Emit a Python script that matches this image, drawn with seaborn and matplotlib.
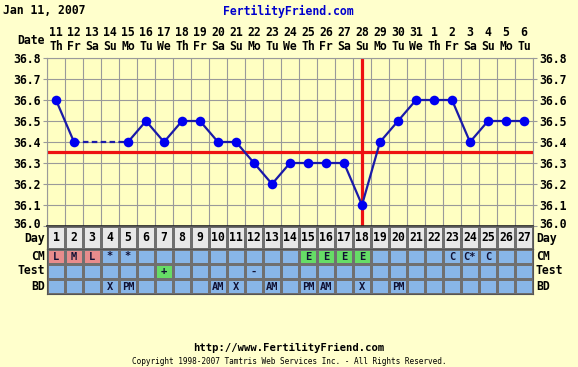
import numpy as np
import pandas as pd
import matplotlib
matplotlib.use("Agg")
import matplotlib.pyplot as plt
import matplotlib.transforms as mtransforms
from matplotlib.colors import ListedColormap
import seaborn as sns

# chart data
title = "Jan 11, 2007"
site = "FertilityFriend.com"
footer_url = "http://www.FertilityFriend.com"
footer_copy = "Copyright 1998-2007 Tamtris Web Services Inc. - All Rights Reserved."
cycle_days = list(range(1, 28))
dates = ["11", "12", "13", "14", "15", "16", "17", "18", "19", "20", "21", "22", "23", "24",
         "25", "26", "27", "28", "29", "30", "31", "1", "2", "3", "4", "5", "6"]
weekdays = ["Th", "Fr", "Sa", "Su", "Mo", "Tu", "We", "Th", "Fr", "Sa", "Su", "Mo", "Tu", "We",
            "Th", "Fr", "Sa", "Su", "Mo", "Tu", "We", "Th", "Fr", "Sa", "Su", "Mo", "Tu"]
temps = [36.6, 36.4, None, None, 36.4, 36.5, 36.4, 36.5, 36.5, 36.4, 36.4, 36.3, 36.2, 36.3,
         36.3, 36.3, 36.3, 36.1, 36.4, 36.5, 36.6, 36.6, 36.6, 36.4, 36.5, 36.5, 36.5]
coverline = 36.35
ovulation_day = 18
temp_ticks = [36.0, 36.1, 36.2, 36.3, 36.4, 36.5, 36.6, 36.7, 36.8]
row_names = ["CM", "Test", "BD"]
cm = ["L", "M", "L", "*", "*", "", "", "", "", "", "", "", "", "",
      "E", "E", "E", "E", "", "", "", "", "C", "C*", "C", "", ""]
test = ["", "", "", "", "", "", "+", "", "", "", "", "-", "", "",
        "", "", "", "", "", "", "", "", "", "", "", "", ""]
bd = ["", "", "", "X", "PM", "", "", "", "", "AM", "X", "", "AM", "",
      "PM", "AM", "", "X", "", "PM", "", "", "", "", "", "", ""]

# colours
BG = "#ffffcc"
PLOT_BG = "#ffffc2"
GRID = "#9a9a9a"
LINE = "#1a1aa8"
MARK = "#0000f0"
RED = "#ee1111"
BLUE_CELL = "#88b6e8"
PINK_CELL = "#e88c8c"
GREEN_CELL = "#66dd66"
cell_code = {"L": 1, "M": 1, "E": 2, "+": 2}

plt.rcParams['font.family'] = ['DejaVu Sans Mono']
plt.rcParams['font.weight'] = 'bold'
FS = 8.3

W, H = 578, 367
def px(x, y):
    return x / W, 1 - y / H

fig = plt.figure(figsize=(W / 100, H / 100), dpi=100, facecolor=BG)

# temperature panel
ax = fig.add_axes([47 / W, 1 - 226 / H, 486 / W, 168 / H])
ax.set_facecolor(PLOT_BG)

df = pd.DataFrame({"day": cycle_days, "temp": temps})
df["x"] = df["day"] - 0.5
df["seg"] = df["temp"].isna().cumsum()
valid = df.dropna(subset=["temp"]).reset_index(drop=True)
gaps = valid[valid["day"].diff() > 1].index
gap_df = pd.concat([valid.loc[[i - 1, i]] for i in gaps])

sns.lineplot(data=valid, x="x", y="temp", units="seg", estimator=None, color=LINE,
             lw=1.6, ax=ax, legend=False, zorder=3)
sns.lineplot(data=gap_df, x="x", y="temp", color=LINE, lw=1.6, ls=(0, (2.5, 1.5)),
             ax=ax, legend=False, zorder=3)
ax.axhline(coverline, color=RED, lw=2.3, zorder=2)
ax.axvline(ovulation_day - 0.5, color=RED, lw=2.3, zorder=2)
sns.scatterplot(data=valid, x="x", y="temp", s=48, color=MARK, edgecolor=MARK,
                linewidth=0, ax=ax, zorder=4, legend=False)

ax.set_xlim(0, 27)
ax.set_ylim(36.0, 36.8)
ax.set_xticks(range(28))
ax.set_xticklabels([])
ax.set_yticks(temp_ticks)
ax.set_yticklabels([f"{t:.1f}" for t in temp_ticks], fontsize=FS, fontweight='bold')
ax.tick_params(axis='x', length=0)
ax.tick_params(axis='y', left=True, right=True, labelleft=True, labelright=True,
               length=3, color=GRID, pad=1.5)
ax.grid(True, color=GRID, lw=0.8)
ax.set_axisbelow(True)
ax.set_xlabel("")
ax.set_ylabel("")
for s in ["left", "right", "top"]:
    ax.spines[s].set_color(GRID)
    ax.spines[s].set_linewidth(0.8)
ax.spines["bottom"].set_color("#222222")
ax.spines["bottom"].set_linewidth(1.2)

# lift the bottom tick labels a little so they clear the "Day" labels
lift = mtransforms.ScaledTranslation(0, 2.5 / 100, fig.dpi_scale_trans)
bottom_tick = ax.yaxis.get_major_ticks()[0]
for lab in (bottom_tick.label1, bottom_tick.label2):
    lab.set_transform(lab.get_transform() + lift)

# header
trans = mtransforms.blended_transform_factory(ax.transData, fig.transFigure)
for i, (d, w) in enumerate(zip(dates, weekdays)):
    ax.text(i + 0.5, px(0, 33)[1], d, transform=trans, ha="center", va="center", fontsize=FS)
    ax.text(i + 0.5, px(0, 46)[1], w, transform=trans, ha="center", va="center", fontsize=FS)
fig.text(*px(45, 40), "Date", ha="right", va="center", fontsize=FS)
fig.text(*px(3, 11), title, ha="left", va="center", fontsize=FS)
fig.text(*px(288, 11), site, ha="center", va="center", fontsize=FS, color="#0000cc")

# day row
ax_day = fig.add_axes([47 / W, 1 - 249 / H, 486 / W, 23 / H])
sns.heatmap(np.zeros((1, 27)), cmap=ListedColormap(["#e8e8e8"]), cbar=False,
            annot=np.array([[str(d) for d in cycle_days]]), fmt="",
            annot_kws={"fontsize": FS, "fontweight": "bold", "color": "black"},
            linewidths=0.8, linecolor="#707070", xticklabels=False, yticklabels=False,
            ax=ax_day)

# observation rows
obs = np.array([cm, test, bd])
codes = np.vectorize(lambda s: cell_code.get(s, 0))(obs)
ax_obs = fig.add_axes([47 / W, 1 - 294 / H, 486 / W, 45 / H])
sns.heatmap(codes, cmap=ListedColormap([BLUE_CELL, PINK_CELL, GREEN_CELL]), vmin=-0.5, vmax=2.5,
            cbar=False, annot=obs, fmt="",
            annot_kws={"fontsize": 7.5, "fontweight": "bold", "color": "#111133"},
            linewidths=0.8, linecolor="#707070", xticklabels=False, yticklabels=False,
            ax=ax_obs)
for a in (ax_day, ax_obs):
    for s in a.spines.values():
        s.set_visible(True)
        s.set_color("#555555")
        s.set_linewidth(0.8)

row_y = {"Day": 239, "CM": 256, "Test": 271, "BD": 287}
for name, y in row_y.items():
    fig.text(*px(45, y), name, ha="right", va="center", fontsize=FS)
    fig.text(*px(536, y), name, ha="left", va="center", fontsize=FS)

fig.text(*px(289, 348), footer_url, ha="center", va="center", fontsize=7.6)
fig.text(*px(289, 361), footer_copy, ha="center", va="center", fontsize=5.6, fontweight="normal")

fig.savefig("out.png", dpi=100, facecolor=BG)
